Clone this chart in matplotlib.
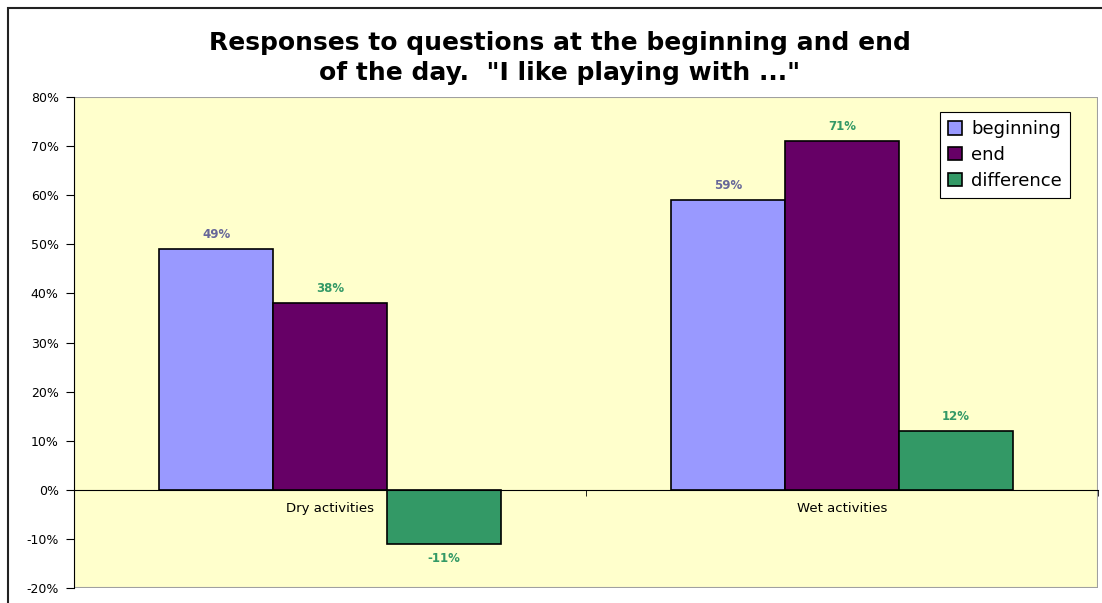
import matplotlib.pyplot as plt
import numpy as np
from matplotlib.patches import Rectangle
from matplotlib.ticker import FuncFormatter, FixedLocator

categories = ["Dry activities", "Wet activities"]
beginning = [0.49, 0.59]
end = [0.38, 0.71]
difference = [-0.11, 0.12]
series_names = ["beginning", "end", "difference"]

plt.rcParams["font.family"] = ["DejaVu Sans"]

fig = plt.figure(figsize=(11.02, 6.03), dpi=100)
W, H = 1102, 603
# chart area frame (cut off at right and bottom)
fig.patches.append(Rectangle((8 / W, -0.05), 1.2, 1 - 8 / H + 0.05, transform=fig.transFigure,
                             fill=False, edgecolor="#222222", linewidth=1.5))

ax = fig.add_axes([74 / W, 1 - 588 / H, (1098 - 74) / W, (588 - 97) / H])
ax.set_facecolor("#FFFFCC")

x = np.arange(len(categories))
w = 1 / 4.5
colors = ["#9999FF", "#660066", "#339966"]
label_colors = ["#666699", "#339966", "#339966"]
for i, (vals, name) in enumerate(zip([beginning, end, difference], series_names)):
    pos = x + (i - 1) * w
    ax.bar(pos, vals, width=w, color=colors[i], edgecolor="black", linewidth=1.2, label=name, zorder=2)
    for px, v in zip(pos, vals):
        off = 6 if v >= 0 else -6
        ax.annotate(f"{round(v * 100):.0f}%", (px, v), xytext=(0, off), textcoords="offset points",
                    ha="center", va="bottom" if v >= 0 else "top", fontsize=8.5,
                    fontweight="bold", color=label_colors[i])

ax.set_xlim(-0.5, 1.5)
ax.set_ylim(-0.2, 0.8)
ax.yaxis.set_major_locator(FixedLocator(np.arange(-0.2, 0.81, 0.1)))
ax.yaxis.set_major_formatter(FuncFormatter(lambda v, p: f"{round(v * 100):.0f}%"))
ax.tick_params(axis="y", direction="out", length=6, labelsize=9, pad=5)

ax.spines["bottom"].set_position(("data", 0))
ax.spines["bottom"].set_color("black")
ax.spines["left"].set_color("black")
ax.spines["top"].set_visible(False)
ax.spines["right"].set_visible(False)
ax.add_patch(Rectangle((0, 0), 1, 1, transform=ax.transAxes, fill=False,
                       edgecolor="#A0A0A0", linewidth=1.5, zorder=0.5))
ax.set_xticks(x)
ax.set_xticklabels(categories, fontsize=9.5)
ax.set_xticks([-0.5, 0.5, 1.5], minor=True)
ax.tick_params(axis="x", which="major", length=0, pad=9)
ax.tick_params(axis="x", which="minor", direction="out", length=4)

leg = ax.legend(loc="upper right", bbox_to_anchor=(0.973, 0.969), borderaxespad=0, fontsize=13,
                frameon=True, fancybox=False, edgecolor="black", framealpha=1, handlelength=0.75,
                handleheight=0.75, handletextpad=0.55, borderpad=0.45, labelspacing=0.42)
leg.get_frame().set_linewidth(0.8)

fig.text(560 / W, 1 - 43 / H, "Responses to questions at the beginning and end", ha="center",
         va="center", fontsize=18, fontweight="bold")
fig.text(560 / W, 1 - 73 / H, "of the day.  \"I like playing with ...\"", ha="center",
         va="center", fontsize=18, fontweight="bold")

plt.savefig("out.png", dpi=100)
plt.close()
